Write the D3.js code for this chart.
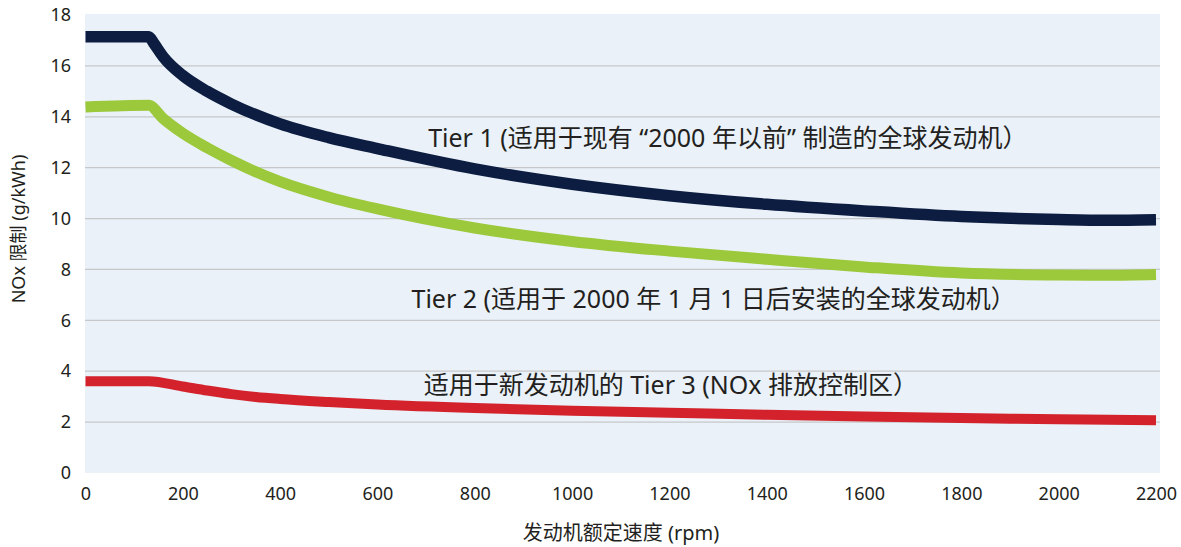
<!DOCTYPE html>
<html><head><meta charset="utf-8">
<script src="https://cdn.jsdelivr.net/npm/d3@7"></script>
<style>
html,body{margin:0;padding:0;background:#fff;}
text{font-family:"Noto Sans","Noto Sans CJK SC",sans-serif;fill:#231f20;}
</style></head>
<body>
<svg id="chart" width="1181" height="547"></svg>
<script>
const tier1Rpm = [0,130,140,160,200,250,300,400,500,600,800,1000,1200,1400,1600,1800,2000,2100,2200];
const tier1Val = [17.15,17.15,16.9,16.35,15.62,15.0,14.5,13.72,13.18,12.75,11.95,11.35,10.9,10.56,10.3,10.08,9.96,9.93,9.95];
const tier2Rpm = [0,130,160,200,250,300,400,500,600,800,1000,1200,1400,1600,1800,2000,2100,2200];
const tier2Val = [14.38,14.45,13.92,13.35,12.78,12.28,11.45,10.85,10.38,9.63,9.1,8.72,8.4,8.1,7.86,7.78,7.77,7.8];
const tier3Rpm = [0,130,200,250,300,350,400,500,600,800,1000,1200,1400,1600,1800,2000,2200];
const tier3Val = [3.61,3.61,3.4,3.24,3.1,2.99,2.91,2.79,2.69,2.55,2.45,2.37,2.29,2.22,2.16,2.11,2.07];
const xTicks = [0,200,400,600,800,1000,1200,1400,1600,1800,2000,2200];
const yTicks = [0,2,4,6,8,10,12,14,16,18];
const gridVals = [2,4,6,8,10,12,14,16];
const labels = [
  "Tier 1 (适用于现有 “2000 年以前” 制造的全球发动机）",
  "Tier 2 (适用于 2000 年 1 月 1 日后安装的全球发动机）",
  "适用于新发动机的 Tier 3 (NOx 排放控制区）"
];
const labelPos = [[1320,13.2],[1291,6.88],[1203,3.5]]; // anchor (rpm, value)
const xTitle = "发动机额定速度 (rpm)";
const yTitle = "NOx 限制 (g/kWh)";

const svg = d3.select("#chart");
const x = d3.scaleLinear().domain([0,2200]).range([85.5,1156]);
const y = d3.scaleLinear().domain([0,18]).range([473,15]);

svg.append("rect").attr("x",85).attr("y",14).attr("width",1160-85).attr("height",473-14).attr("fill","#eaf1f8");

svg.append("g").selectAll("line").data(gridVals).join("line")
  .attr("x1",85).attr("x2",1160).attr("y1",d=>y(d)).attr("y2",d=>y(d))
  .attr("stroke","#c6c8ca").attr("stroke-width",1.3);

const series = [
  {rpm:tier3Rpm, val:tier3Val, color:"#d3222b", w:10},
  {rpm:tier2Rpm, val:tier2Val, color:"#9bc93b", w:11},
  {rpm:tier1Rpm, val:tier1Val, color:"#0c1d41", w:11.5}
];
const line = d3.line().x(d=>x(d[0])).y(d=>y(d[1])).curve(d3.curveMonotoneX);
series.forEach(s=>{
  svg.append("path").datum(s.rpm.map((r,i)=>[r,s.val[i]]))
    .attr("d",line).attr("fill","none").attr("stroke",s.color)
    .attr("stroke-width",s.w).attr("stroke-linejoin","round");
});

// axes
const xAxis = d3.axisBottom(x).tickValues(xTicks).tickFormat(d3.format("d")).tickSize(0).tickPadding(14);
const gx = svg.append("g").attr("transform","translate(0,473)").call(xAxis);
gx.select(".domain").remove();
gx.selectAll("text").attr("font-size",18).style("fill","#231f20").attr("font-family","'Noto Sans',sans-serif");

const yAxis = d3.axisLeft(y).tickValues(yTicks).tickFormat(d3.format("d")).tickSize(0).tickPadding(14);
const gy = svg.append("g").attr("transform","translate(85,0)").call(yAxis);
gy.select(".domain").remove();
gy.selectAll("text").attr("font-size",18).style("fill","#231f20").attr("font-family","'Noto Sans',sans-serif");

// labels
svg.append("g").selectAll("text").data(labels).join("text")
  .attr("x",(d,i)=>x(labelPos[i][0]))
  .attr("y",(d,i)=>y(labelPos[i][1]))
  .attr("text-anchor","middle")
  .attr("dominant-baseline","central")
  .attr("font-size",25)
  .text(d=>d);

svg.append("text").attr("x",621).attr("y",540).attr("text-anchor","middle").attr("font-size",20).text(xTitle);
svg.append("text").attr("transform","translate(25,229) rotate(-90)").attr("text-anchor","middle").attr("font-size",18).text(yTitle);
</script>
</body></html>
